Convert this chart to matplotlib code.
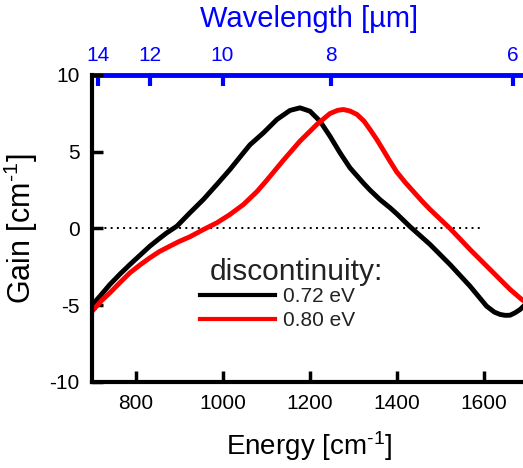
import matplotlib
matplotlib.use("Agg")
import matplotlib.pyplot as plt

plt.rcParams['font.family'] = ['Liberation Sans', 'DejaVu Sans']
plt.rcParams['axes.unicode_minus'] = False
plt.rcParams['mathtext.fontset'] = 'custom'
plt.rcParams['mathtext.rm'] = 'Liberation Sans'
plt.rcParams['mathtext.it'] = 'Liberation Sans'

# energy [cm^-1] and gain [cm^-1]
e_072 = [700, 720, 741, 765, 787, 810, 833, 855, 872, 895, 925, 956, 987,
         1017, 1048, 1063, 1094, 1125, 1155, 1178, 1201, 1224, 1247, 1270,
         1293, 1324, 1339, 1362, 1385, 1400, 1431, 1477, 1523, 1569, 1607,
         1625, 1638, 1650, 1661, 1672, 1684, 1700]
g_072 = [-5.0, -4.35, -3.65, -2.95, -2.35, -1.75, -1.15, -0.65, -0.28, 0.15,
         1.02, 1.89, 2.87, 3.84, 4.93, 5.45, 6.23, 7.1, 7.69, 7.86, 7.64, 6.99,
         6.01, 4.93, 3.95, 2.95, 2.5, 1.88, 1.35, 0.97, 0.12, -1.04, -2.35,
         -3.76, -5.06, -5.45, -5.6, -5.66, -5.65, -5.5, -5.28, -4.85]

e_080 = [700, 720, 741, 765, 787, 810, 833, 855, 879, 900, 925, 956, 987,
         1017, 1048, 1079, 1102, 1140, 1178, 1217, 1247, 1265, 1278, 1293,
         1309, 1325, 1339, 1355, 1370, 1385, 1400, 1420, 1439, 1458, 1477,
         1500, 1523, 1546, 1569, 1592, 1615, 1638, 1661, 1688, 1700]
g_080 = [-5.4, -4.75, -4.19, -3.5, -2.89, -2.38, -1.91, -1.5, -1.15, -0.85,
         -0.54, -0.07, 0.37, 0.91, 1.56, 2.4, 3.15, 4.45, 5.69, 6.78, 7.49, 7.7,
         7.75, 7.65, 7.43, 7.0, 6.45, 5.78, 5.08, 4.38, 3.7, 3.0, 2.4, 1.8,
         1.24, 0.62, 0.0, -0.68, -1.37, -2.02, -2.67, -3.32, -3.97, -4.63, -4.85]

labels = ["0.72 eV", "0.80 eV"]
colors = ["black", "#ff0000"]

x_ticks = [800, 1000, 1200, 1400, 1600]
y_ticks = [-10, -5, 0, 5, 10]
wl_ticks = [14, 12, 10, 8, 6]

fig = plt.figure(figsize=(5.23, 4.68), dpi=100)
ax = fig.add_axes([0.176, 0.1838, 0.8317, 0.656])

ax.plot([700, 1600], [0, 0], color="black", lw=1.4, ls=(0, (1, 2.2)))
l1, = ax.plot(e_072, g_072, color=colors[0], lw=3.5, label=labels[0])
l2, = ax.plot(e_080, g_080, color=colors[1], lw=3.5, label=labels[1])

ax.set_xlim(700, 1700)
ax.set_ylim(-10, 10)
ax.set_xticks(x_ticks)
ax.set_yticks(y_ticks)
ax.tick_params(direction="in", length=8, width=2.5, labelsize=15, pad=9)
for s in ["left", "bottom"]:
    ax.spines[s].set_linewidth(3)
ax.spines["top"].set_visible(False)
ax.spines["right"].set_visible(False)

ax.set_xlabel("Energy [cm$^{\\text{-}1}$]", fontsize=20, labelpad=11)
ax.set_ylabel("Gain [cm$^{\\text{-}1}$]", fontsize=22, labelpad=7)

top = ax.secondary_xaxis("top", functions=(lambda e: 1e4 / e, lambda w: 1e4 / w))
top.set_xticks(wl_ticks)
top.spines["top"].set_color("#0000ff")
top.spines["top"].set_linewidth(3.5)
top.tick_params(direction="in", length=8, width=3, colors="#0000ff",
                labelsize=15, pad=7)
top.set_xlabel("Wavelength [µm]", fontsize=21, color="#0000ff", labelpad=14)

ax.text(1171, -2.85, "discontinuity:", fontsize=21.5, color="#222222", ha="center", va="center")
leg = ax.legend(handles=[l1, l2], loc="upper left", bbox_to_anchor=(0.205, 0.37),
                frameon=False, fontsize=15, handlelength=3.6, handletextpad=0.4,
                labelspacing=0.25)
for t in leg.get_texts():
    t.set_color("#222222")
for h in leg.get_lines():
    h.set_linewidth(3)

fig.savefig("out.png", dpi=100)
